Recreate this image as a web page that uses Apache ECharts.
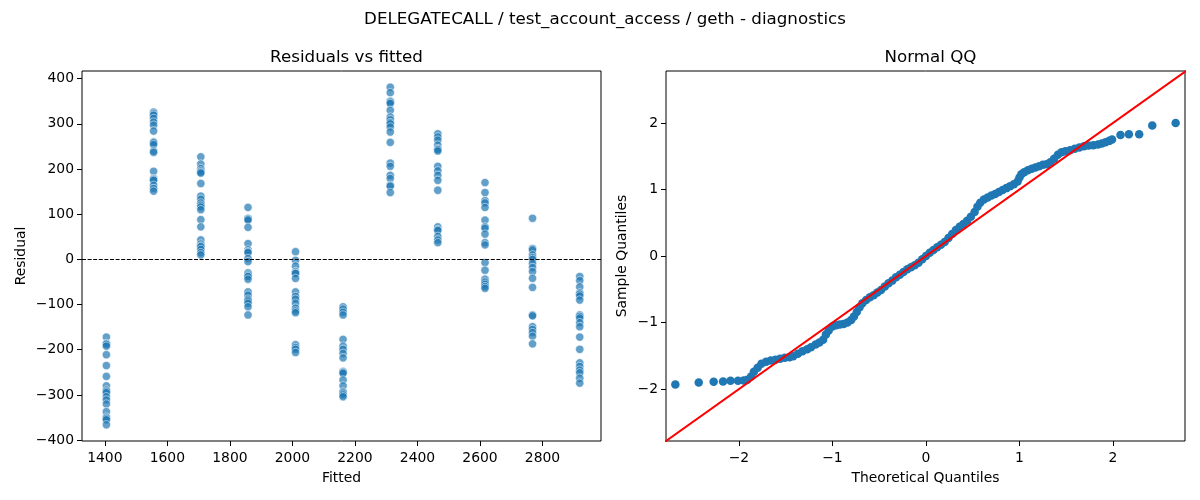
<!DOCTYPE html>
<html>
<head>
<meta charset="utf-8">
<script src="https://cdn.jsdelivr.net/npm/echarts@6/dist/echarts.min.js"></script>
<style>
  html, body { margin: 0; padding: 0; background: #fff; }
  #chart { width: 1200px; height: 500px; }
</style>
</head>
<body>
<div id="chart"></div>
<script>
// fitted value of each group (x of the left panel)
const fittedLevels = [1405, 1556, 1707, 1858, 2010, 2162, 2313, 2465, 2616, 2768, 2919];

// residuals, one list per fitted group
const residualGroups = [
    [-172, -186, -188, -192, -211, -235, -259, -280, -289, -292, -295, -304, -311, -320, -337, -349, -352, -355, -366],
    [326, 322, 319, 312, 304, 297, 284, 260, 258, 254, 240, 237, 195, 179, 177, 175, 164, 157, 151],
    [227, 211, 201, 196, 193, 191, 168, 140, 133, 125, 120, 116, 110, 88, 72, 43, 34, 30, 28, 22, 15, 10],
    [115, 91, 89, 87, 71, 35, 21, 17, 15, 2, -5, -30, -35, -38, -44, -72, -79, -88, -92, -97, -105, -123],
    [17, -2, -15, -27, -30, -31, -42, -72, -82, -88, -97, -108, -114, -118, -189, -195, -199, -206],
    [-105, -110, -117, -123, -177, -192, -199, -208, -218, -248, -250, -252, -267, -280, -293, -296, -300, -304],
    [381, 369, 350, 348, 345, 330, 315, 309, 303, 300, 293, 282, 259, 213, 206, 186, 179, 164, 162, 148],
    [278, 271, 264, 253, 245, 243, 240, 206, 196, 186, 175, 153, 72, 66, 64, 51, 43, 37],
    [170, 148, 130, 125, 115, 87, 72, 69, 56, 37, 32, -7, -24, -44, -50, -55, -60, -64],
    [91, 24, 21, 10, 4, 0, -9, -18, -27, -42, -62, -123, -125, -149, -155, -162, -170, -187],
    [-38, -47, -61, -74, -77, -81, -90, -123, -126, -130, -140, -149, -172, -199, -229, -237, -245, -251, -263, -274]
];

// normal QQ points (theoretical, sample)
const qqTheoretical = [
    -2.68, -2.43, -2.27, -2.17, -2.09, -2.01, -1.95, -1.91, -1.87, -1.84,
    -1.80, -1.76, -1.71, -1.66, -1.61, -1.56, -1.51, -1.46, -1.42, -1.37,
    -1.32, -1.27, -1.23, -1.18, -1.14, -1.10, -1.07, -1.04, -1.00, -0.96,
    -0.92, -0.88, -0.84, -0.80, -0.77, -0.74, -0.71, -0.68, -0.64, -0.60,
    -0.56, -0.52, -0.48, -0.44, -0.40, -0.36, -0.32, -0.28, -0.24, -0.20,
    -0.16, -0.12, -0.08, -0.04, 0.00,
    0.04, 0.08, 0.12, 0.16, 0.20, 0.24, 0.28, 0.32, 0.36, 0.40,
    0.44, 0.48, 0.52, 0.55, 0.58, 0.62, 0.66, 0.70, 0.74, 0.78,
    0.82, 0.86, 0.90, 0.94, 0.98, 1.00, 1.02, 1.05, 1.09, 1.13,
    1.17, 1.21, 1.25, 1.29, 1.33, 1.37, 1.41, 1.45, 1.49, 1.54,
    1.59, 1.64, 1.69, 1.74, 1.79, 1.84, 1.88, 1.92, 1.96, 1.99,
    2.08, 2.17, 2.28, 2.42, 2.67
];
const qqSample = [
    -1.93, -1.90, -1.89, -1.885, -1.875, -1.875, -1.87, -1.86, -1.81, -1.74,
    -1.68, -1.62, -1.59, -1.57, -1.56, -1.545, -1.53, -1.52, -1.505, -1.47,
    -1.43, -1.40, -1.37, -1.33, -1.30, -1.26, -1.18, -1.12, -1.06, -1.04,
    -1.03, -1.02, -1.00, -0.96, -0.91, -0.84, -0.77, -0.71, -0.66, -0.62,
    -0.59, -0.55, -0.51, -0.46, -0.41, -0.37, -0.32, -0.28, -0.24, -0.20,
    -0.17, -0.14, -0.10, -0.05, 0.00,
    0.05, 0.09, 0.13, 0.17, 0.21, 0.27, 0.33, 0.39, 0.44, 0.48,
    0.53, 0.59, 0.66, 0.74, 0.80, 0.85, 0.88, 0.91, 0.93, 0.96,
    0.99, 1.02, 1.05, 1.08, 1.12, 1.18, 1.23, 1.26, 1.29, 1.31,
    1.33, 1.35, 1.37, 1.38, 1.41, 1.46, 1.52, 1.56, 1.575, 1.59,
    1.61, 1.63, 1.65, 1.66, 1.665, 1.675, 1.69, 1.71, 1.73, 1.75,
    1.82, 1.83, 1.83, 1.96, 2.00
];

// 45 degree reference line end points
const refLine = [[-3, -3], [3, 3]];

// tick labels
const fittedTicks = [1400, 1600, 1800, 2000, 2200, 2400, 2600, 2800];
const residualTicks = [-400, -300, -200, -100, 0, 100, 200, 300, 400];
const quantileTicks = [-2, -1, 0, 1, 2];

const FONT = 'DejaVu Sans';
const minus = v => (v < 0 ? '\u2212' + Math.abs(v) : String(v));

const residPoints = [];
fittedLevels.forEach((f, i) => {
    residualGroups[i].forEach(r => residPoints.push([f, r]));
});
const qqPoints = qqTheoretical.map((t, i) => [t, qqSample[i]]);

const chart = echarts.init(document.getElementById('chart'), null, {renderer: 'canvas'});

function valueAxis(gridIndex, min, max, ticks, name, isY) {
    return {
        type: 'value',
        gridIndex: gridIndex,
        min: min,
        max: max,
        name: name,
        nameLocation: 'middle',
        nameGap: isY ? (gridIndex === 0 ? 54 : 37) : 30,
        nameRotate: isY ? 90 : 0,
        nameTextStyle: {color: '#000', fontFamily: FONT, fontSize: 13.9},
        axisLine: {show: false, onZero: false},
        axisTick: {show: true, length: 5, customValues: ticks, lineStyle: {color: '#000', width: 1}},
        axisLabel: {
            customValues: ticks,
            margin: isY ? 8 : 10,
            color: '#000',
            fontFamily: FONT,
            fontSize: 13.9,
            formatter: minus
        },
        splitLine: {show: false}
    };
}

const option = {
    animation: false,
    backgroundColor: '#fff',
    title: [
        {text: 'DELEGATECALL / test_account_access / geth - diagnostics', left: 600, top: 6, textAlign: 'center',
            textStyle: {fontFamily: FONT, fontSize: 16.7, fontWeight: 'normal', color: '#000'}},
        {text: 'Residuals vs fitted', left: 341.5, top: 44, textAlign: 'center',
            textStyle: {fontFamily: FONT, fontSize: 16.7, fontWeight: 'normal', color: '#000'}},
        {text: 'Normal QQ', left: 925.5, top: 44, textAlign: 'center',
            textStyle: {fontFamily: FONT, fontSize: 16.7, fontWeight: 'normal', color: '#000'}}
    ],
    grid: [
        {left: 82, top: 71, width: 519, height: 370, show: true, borderColor: '#000', borderWidth: 1},
        {left: 666, top: 71, width: 519, height: 370, show: true, borderColor: '#000', borderWidth: 1}
    ],
    xAxis: [
        valueAxis(0, 1327, 2987, fittedTicks, 'Fitted', false),
        valueAxis(1, -2.78, 2.77, quantileTicks, 'Theoretical Quantiles', false)
    ],
    yAxis: [
        valueAxis(0, -402, 417, residualTicks, 'Residual', true),
        valueAxis(1, -2.78, 2.78, quantileTicks, 'Sample Quantiles', true)
    ],
    series: [
        {
            type: 'scatter',
            xAxisIndex: 0,
            yAxisIndex: 0,
            data: residPoints,
            symbolSize: 8.3,
            itemStyle: {color: '#1f77b4', borderColor: '#fff', borderWidth: 0.75, opacity: 0.7},
            markLine: {
                silent: true,
                symbol: 'none',
                label: {show: false},
                lineStyle: {color: '#000', type: [4, 1.6], width: 1},
                data: [{yAxis: 0}]
            },
            z: 2
        },
        {
            type: 'scatter',
            xAxisIndex: 1,
            yAxisIndex: 1,
            data: qqPoints,
            symbolSize: 8.5,
            itemStyle: {color: '#1f77b4', opacity: 1},
            z: 2
        },
        {
            type: 'line',
            xAxisIndex: 1,
            yAxisIndex: 1,
            data: refLine,
            symbol: 'none',
            clip: true,
            lineStyle: {color: '#ff0000', width: 2},
            z: 3
        }
    ]
};

chart.setOption(option);
</script>
</body>
</html>
